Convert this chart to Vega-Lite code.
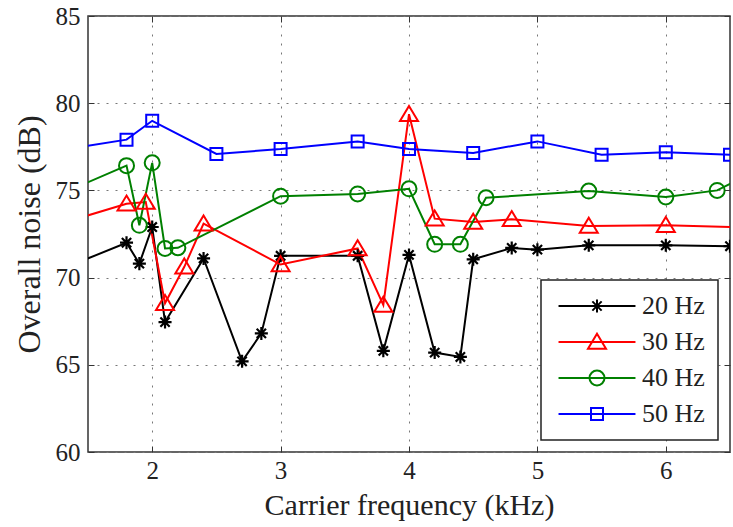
{
  "$schema": "https://vega.github.io/schema/vega-lite/v6.json",
  "width": 642,
  "height": 436,
  "autosize": "none",
  "padding": {"left": 88, "top": 16, "right": 3, "bottom": 75},
  "background": "white",
  "config": {
    "view": {"stroke": "#333", "strokeWidth": 1.5},
    "style": {"guide-label": {"font": "Liberation Serif"}, "guide-title": {"font": "Liberation Serif"}},
    "axis": {
      "labelFont": "Liberation Serif",
      "titleFont": "Liberation Serif",
      "labelColor": "#222",
      "titleColor": "#222",
      "titleFontWeight": "normal",
      "labelFontSize": 25,
      "domain": false,
      "tickColor": "#333",
      "tickSize": -6,
      "tickWidth": 1,
      "gridColor": "#777",
      "gridDash": [2, 7],
      "gridWidth": 1
    },
    "legend": {
      "orient": "none",
      "legendX": 453,
      "legendY": 264,
      "title": null,
      "strokeColor": "#222",
      "strokeWidth": 1.5,
      "fillColor": "white",
      "padding": 13,
      "labelFont": "Liberation Serif",
      "labelFontSize": 26,
      "labelColor": "#222",
      "symbolSize": 225,
      "symbolOffset": 30,
      "labelOffset": 32,
      "rowPadding": 10,
      "symbolStrokeWidth": 2
    }
  },
  "data": {
    "values": [
      {"series": "20 Hz", "freq": 1.4, "noise": 70.8},
      {"series": "20 Hz", "freq": 1.8, "noise": 72.0},
      {"series": "20 Hz", "freq": 1.9, "noise": 70.8},
      {"series": "20 Hz", "freq": 2.0, "noise": 72.9},
      {"series": "20 Hz", "freq": 2.1, "noise": 67.45},
      {"series": "20 Hz", "freq": 2.4, "noise": 71.1},
      {"series": "20 Hz", "freq": 2.7, "noise": 65.2},
      {"series": "20 Hz", "freq": 2.85, "noise": 66.8},
      {"series": "20 Hz", "freq": 3.0, "noise": 71.25},
      {"series": "20 Hz", "freq": 3.6, "noise": 71.25},
      {"series": "20 Hz", "freq": 3.8, "noise": 65.8},
      {"series": "20 Hz", "freq": 4.0, "noise": 71.3},
      {"series": "20 Hz", "freq": 4.2, "noise": 65.7},
      {"series": "20 Hz", "freq": 4.4, "noise": 65.45},
      {"series": "20 Hz", "freq": 4.5, "noise": 71.05},
      {"series": "20 Hz", "freq": 4.8, "noise": 71.7},
      {"series": "20 Hz", "freq": 5.0, "noise": 71.6},
      {"series": "20 Hz", "freq": 5.4, "noise": 71.85},
      {"series": "20 Hz", "freq": 6.0, "noise": 71.85},
      {"series": "20 Hz", "freq": 6.5, "noise": 71.8},
      {"series": "30 Hz", "freq": 1.4, "noise": 73.35},
      {"series": "30 Hz", "freq": 1.8, "noise": 74.23},
      {"series": "30 Hz", "freq": 1.95, "noise": 74.33},
      {"series": "30 Hz", "freq": 2.1, "noise": 68.53},
      {"series": "30 Hz", "freq": 2.25, "noise": 70.62},
      {"series": "30 Hz", "freq": 2.4, "noise": 73.09},
      {"series": "30 Hz", "freq": 3.0, "noise": 70.75},
      {"series": "30 Hz", "freq": 3.6, "noise": 71.67},
      {"series": "30 Hz", "freq": 3.8, "noise": 68.43},
      {"series": "30 Hz", "freq": 4.0, "noise": 79.37},
      {"series": "30 Hz", "freq": 4.2, "noise": 73.38},
      {"series": "30 Hz", "freq": 4.5, "noise": 73.19},
      {"series": "30 Hz", "freq": 4.8, "noise": 73.34},
      {"series": "30 Hz", "freq": 5.4, "noise": 72.96},
      {"series": "30 Hz", "freq": 6.0, "noise": 73.0},
      {"series": "30 Hz", "freq": 6.6, "noise": 72.88},
      {"series": "40 Hz", "freq": 1.4, "noise": 75.15},
      {"series": "40 Hz", "freq": 1.8, "noise": 76.42},
      {"series": "40 Hz", "freq": 1.9, "noise": 73.0},
      {"series": "40 Hz", "freq": 2.0, "noise": 76.58},
      {"series": "40 Hz", "freq": 2.1, "noise": 71.67},
      {"series": "40 Hz", "freq": 2.2, "noise": 71.71},
      {"series": "40 Hz", "freq": 3.0, "noise": 74.67},
      {"series": "40 Hz", "freq": 3.6, "noise": 74.8},
      {"series": "40 Hz", "freq": 4.0, "noise": 75.09},
      {"series": "40 Hz", "freq": 4.2, "noise": 71.91},
      {"series": "40 Hz", "freq": 4.4, "noise": 71.91},
      {"series": "40 Hz", "freq": 4.6, "noise": 74.58},
      {"series": "40 Hz", "freq": 5.4, "noise": 74.96},
      {"series": "40 Hz", "freq": 6.0, "noise": 74.62},
      {"series": "40 Hz", "freq": 6.4, "noise": 75.0},
      {"series": "40 Hz", "freq": 6.6, "noise": 75.76},
      {"series": "50 Hz", "freq": 1.4, "noise": 77.44},
      {"series": "50 Hz", "freq": 1.8, "noise": 77.91},
      {"series": "50 Hz", "freq": 2.0, "noise": 78.99},
      {"series": "50 Hz", "freq": 2.5, "noise": 77.09},
      {"series": "50 Hz", "freq": 3.0, "noise": 77.37},
      {"series": "50 Hz", "freq": 3.6, "noise": 77.81},
      {"series": "50 Hz", "freq": 4.0, "noise": 77.37},
      {"series": "50 Hz", "freq": 4.5, "noise": 77.15},
      {"series": "50 Hz", "freq": 5.0, "noise": 77.81},
      {"series": "50 Hz", "freq": 5.5, "noise": 77.05},
      {"series": "50 Hz", "freq": 6.0, "noise": 77.19},
      {"series": "50 Hz", "freq": 6.5, "noise": 77.05}
    ]
  },
  "layer": [
    {
      "mark": {"type": "line", "strokeWidth": 2, "clip": true},
      "encoding": {
        "x": {
          "field": "freq", "type": "quantitative",
          "scale": {"domain": [1.5, 6.5], "nice": false, "zero": false},
          "axis": {"values": [2, 3, 4, 5, 6], "title": "Carrier frequency (kHz)", "titleFontSize": 30, "labelFont": "Liberation Serif", "labelPadding": 12, "titlePadding": 7, "grid": true}
        },
        "y": {
          "field": "noise", "type": "quantitative",
          "scale": {"domain": [60, 85], "nice": false, "zero": false},
          "axis": {"values": [60, 65, 70, 75, 80, 85], "title": "Overall noise (dB)", "titleFontSize": 32, "labelFont": "Liberation Serif", "labelPadding": 14, "titlePadding": 9, "grid": true}
        },
        "color": {
          "field": "series", "type": "nominal",
          "scale": {"domain": ["20 Hz", "30 Hz", "40 Hz", "50 Hz"], "range": ["#000000", "#ff0000", "#008000", "#0000ff"]}
        }
      }
    },
    {
      "transform": [{"filter": "datum.series === '20 Hz'"}],
      "mark": {"type": "point", "filled": false, "strokeWidth": 2.2, "size": 225, "color": "#000000", "opacity": 1, "clip": true, "shape": "M-0.87,0H0.87M0,-0.87V0.87M-0.62,-0.62L0.62,0.62M-0.62,0.62L0.62,-0.62"},
      "encoding": {
        "x": {
          "field": "freq", "type": "quantitative",
          "axis": {"orient": "top", "values": [2, 3, 4, 5, 6], "labels": false, "title": null, "grid": false}
        },
        "y": {
          "field": "noise", "type": "quantitative",
          "axis": {"orient": "right", "values": [60, 65, 70, 75, 80, 85], "labels": false, "title": null, "grid": false}
        }
      }
    },
    {
      "transform": [{"filter": "datum.series === '30 Hz'"}],
      "mark": {"type": "point", "filled": false, "strokeWidth": 2, "size": 225, "color": "#ff0000", "opacity": 1, "clip": true, "shape": "M0,-1.1L1.2,0.9L-1.2,0.9Z"},
      "encoding": {
        "x": {"field": "freq", "type": "quantitative", "axis": null},
        "y": {"field": "noise", "type": "quantitative", "axis": null}
      }
    },
    {
      "transform": [{"filter": "datum.series === '40 Hz'"}],
      "mark": {"type": "point", "filled": false, "strokeWidth": 2, "size": 225, "color": "#008000", "opacity": 1, "clip": true, "shape": "circle"},
      "encoding": {
        "x": {"field": "freq", "type": "quantitative", "axis": null},
        "y": {"field": "noise", "type": "quantitative", "axis": null}
      }
    },
    {
      "transform": [{"filter": "datum.series === '50 Hz'"}],
      "mark": {"type": "point", "filled": false, "strokeWidth": 2, "size": 225, "color": "#0000ff", "opacity": 1, "clip": true, "shape": "M-0.8,-0.8H0.8V0.8H-0.8Z"},
      "encoding": {
        "x": {"field": "freq", "type": "quantitative", "axis": null},
        "y": {"field": "noise", "type": "quantitative", "axis": null}
      }
    },
    {
      "transform": [{"filter": "datum.freq > 100"}],
      "mark": {"type": "point", "filled": false, "strokeWidth": 2, "size": 225, "opacity": 1, "clip": true},
      "encoding": {
        "x": {"field": "freq", "type": "quantitative", "axis": null},
        "y": {"field": "noise", "type": "quantitative", "axis": null},
        "color": {
          "field": "series", "type": "nominal",
          "scale": {"domain": ["20 Hz", "30 Hz", "40 Hz", "50 Hz"], "range": ["#000000", "#ff0000", "#008000", "#0000ff"]}
        },
        "shape": {
          "field": "series", "type": "nominal",
          "scale": {"domain": ["20 Hz", "30 Hz", "40 Hz", "50 Hz"], "range": [
            "M-5.13,0H5.13M-0.87,0H0.87M0,-0.87V0.87M-0.62,-0.62L0.62,0.62M-0.62,0.62L0.62,-0.62",
            "M-5.13,0H5.13M0,-1.1L1.2,0.9L-1.2,0.9Z",
            "M-5.13,0H5.13M-1,0A1,1 0 1,0 1,0A1,1 0 1,0 -1,0",
            "M-5.13,0H5.13M-0.8,-0.8H0.8V0.8H-0.8Z"
          ]}
        }
      }
    }
  ],
  "resolve": {"axis": {"x": "independent", "y": "independent"}}
}
